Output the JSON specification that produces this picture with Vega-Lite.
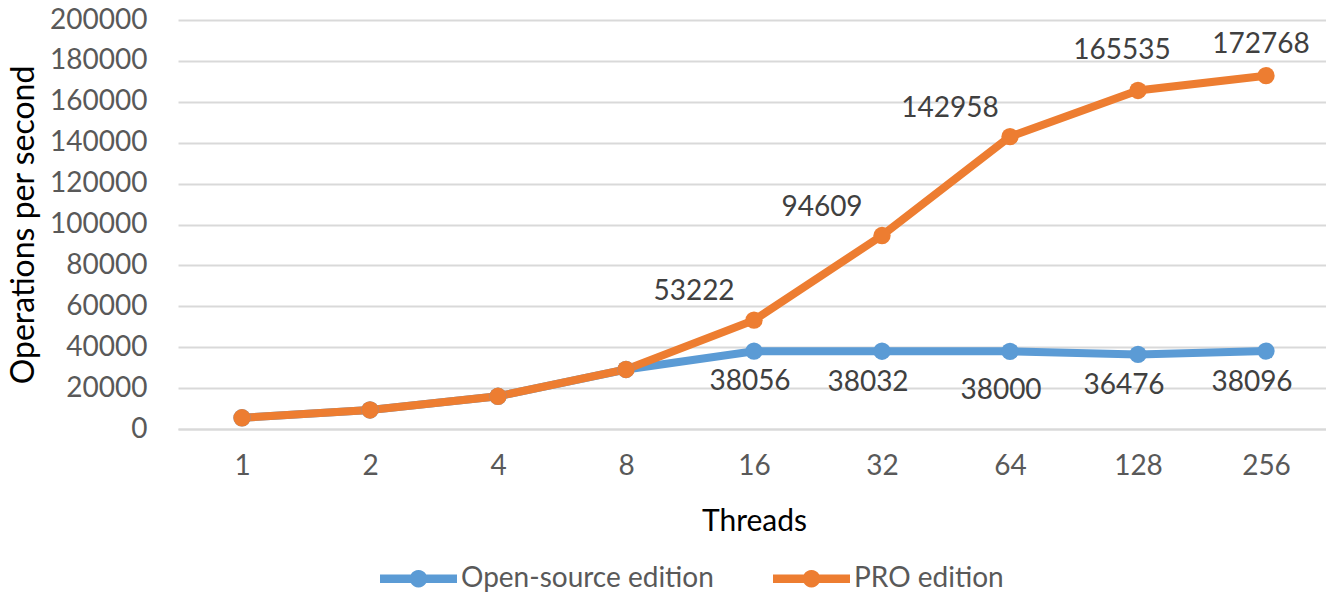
{
  "$schema": "https://vega.github.io/schema/vega-lite/v6.json",
  "width": 1152,
  "height": 409,
  "autosize": "none",
  "padding": {"left": 178, "top": 20, "right": 0, "bottom": 167},
  "background": "white",
  "config": {"font": "Lato", "view": {"stroke": null}},
  "data": {
    "values": [
      {"threads": 1, "edition": "Open-source edition", "ops": 5500},
      {"threads": 2, "edition": "Open-source edition", "ops": 9300},
      {"threads": 4, "edition": "Open-source edition", "ops": 16000},
      {"threads": 8, "edition": "Open-source edition", "ops": 29100},
      {"threads": 16, "edition": "Open-source edition", "ops": 38056},
      {"threads": 32, "edition": "Open-source edition", "ops": 38032},
      {"threads": 64, "edition": "Open-source edition", "ops": 38000},
      {"threads": 128, "edition": "Open-source edition", "ops": 36476},
      {"threads": 256, "edition": "Open-source edition", "ops": 38096},
      {"threads": 1, "edition": "PRO edition", "ops": 5500},
      {"threads": 2, "edition": "PRO edition", "ops": 9300},
      {"threads": 4, "edition": "PRO edition", "ops": 16000},
      {"threads": 8, "edition": "PRO edition", "ops": 29100},
      {"threads": 16, "edition": "PRO edition", "ops": 53222},
      {"threads": 32, "edition": "PRO edition", "ops": 94609},
      {"threads": 64, "edition": "PRO edition", "ops": 142958},
      {"threads": 128, "edition": "PRO edition", "ops": 165535},
      {"threads": 256, "edition": "PRO edition", "ops": 172768}
    ]
  },
  "encoding": {
    "x": {
      "field": "threads",
      "type": "ordinal",
      "scale": {"type": "point", "padding": 0.5},
      "axis": {
        "title": "Threads",
        "labelAngle": 0,
        "labelFontSize": 28,
        "labelColor": "#595959",
        "labelPadding": 23,
        "ticks": false,
        "domain": true,
        "domainColor": "#d9d9d9",
        "domainWidth": 2,
        "grid": false,
        "titleFontSize": 30,
        "titleColor": "#000000",
        "titleFontWeight": "normal",
        "titlePadding": 26
      }
    },
    "y": {
      "field": "ops",
      "type": "quantitative",
      "scale": {"domain": [0, 200000], "nice": false},
      "axis": {
        "title": "Operations per second",
        "values": [0, 20000, 40000, 60000, 80000, 100000, 120000, 140000, 160000, 180000, 200000],
        "format": "d",
        "labelFontSize": 28,
        "labelColor": "#595959",
        "labelPadding": 31,
        "ticks": false,
        "domain": false,
        "gridColor": "#d9d9d9",
        "gridWidth": 2,
        "titleFontSize": 32,
        "titleColor": "#000000",
        "titleFontWeight": "normal",
        "titlePadding": 9
      }
    },
    "color": {
      "field": "edition",
      "type": "nominal",
      "scale": {"domain": ["Open-source edition", "PRO edition"], "range": ["#5B9BD5", "#ED7D31"]},
      "legend": {
        "title": null,
        "orient": "none",
        "direction": "horizontal",
        "legendX": 202,
        "legendY": 520,
        "labelFontSize": 28,
        "labelColor": "#595959",
        "labelLimit": 0,
        "labelOffset": 4,
        "columnPadding": 59,
        "symbolSize": 5929,
        "symbolStrokeWidth": 0,
        "symbolOpacity": 1,
        "symbolType": "M-1,-0.11L-0.2,-0.11A0.23,0.23 0 0 1 0.2,-0.11L1,-0.11L1,0.11L0.2,0.11A0.23,0.23 0 0 1 -0.2,0.11L-1,0.11Z"
      }
    }
  },
  "layer": [
    {
      "mark": {"type": "line", "strokeWidth": 8},
      "encoding": {}
    },
    {
      "mark": {"type": "point", "filled": true, "size": 300, "opacity": 1},
      "encoding": {}
    },
    {
      "transform": [{"filter": "datum.edition == 'PRO edition' && (datum.threads == 16 || datum.threads == 32 || datum.threads == 64)"}],
      "mark": {"type": "text", "fontSize": 28, "color": "#404040", "align": "center", "baseline": "middle", "dx": -60, "dy": -28},
      "encoding": {"text": {"field": "ops", "type": "quantitative", "format": "d"}, "color": {"value": "#404040"}}
    },
    {
      "transform": [{"filter": "datum.edition == 'PRO edition' && datum.threads == 128"}],
      "mark": {"type": "text", "fontSize": 28, "color": "#404040", "align": "center", "baseline": "middle", "dx": -16, "dy": -39},
      "encoding": {"text": {"field": "ops", "type": "quantitative", "format": "d"}, "color": {"value": "#404040"}}
    },
    {
      "transform": [{"filter": "datum.edition == 'PRO edition' && datum.threads == 256"}],
      "mark": {"type": "text", "fontSize": 28, "color": "#404040", "align": "center", "baseline": "middle", "dx": -5, "dy": -31},
      "encoding": {"text": {"field": "ops", "type": "quantitative", "format": "d"}, "color": {"value": "#404040"}}
    },
    {
      "transform": [{"filter": "datum.edition == 'Open-source edition' && datum.threads == 16"}],
      "mark": {"type": "text", "fontSize": 28, "color": "#404040", "align": "center", "baseline": "middle", "dx": -4, "dy": 31},
      "encoding": {"text": {"field": "ops", "type": "quantitative", "format": "d"}, "color": {"value": "#404040"}}
    },
    {
      "transform": [{"filter": "datum.edition == 'Open-source edition' && (datum.threads == 32 || datum.threads == 128 || datum.threads == 256)"}],
      "mark": {"type": "text", "fontSize": 28, "color": "#404040", "align": "center", "baseline": "middle", "dx": -14, "dy": 32},
      "encoding": {"text": {"field": "ops", "type": "quantitative", "format": "d"}, "color": {"value": "#404040"}}
    },
    {
      "transform": [{"filter": "datum.edition == 'Open-source edition' && datum.threads == 64"}],
      "mark": {"type": "text", "fontSize": 28, "color": "#404040", "align": "center", "baseline": "middle", "dx": -9, "dy": 40},
      "encoding": {"text": {"field": "ops", "type": "quantitative", "format": "d"}, "color": {"value": "#404040"}}
    }
  ]
}
